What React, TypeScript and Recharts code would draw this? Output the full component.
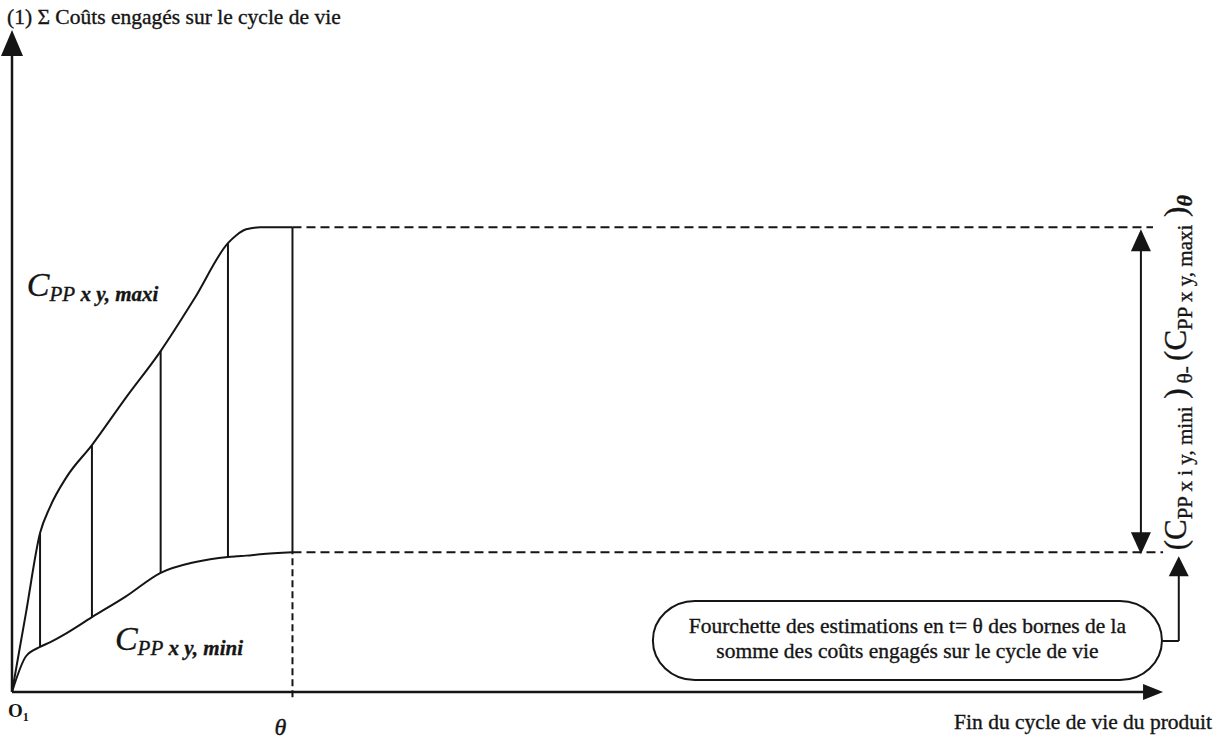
import { ComposedChart, Line, XAxis, YAxis, ReferenceLine, ReferenceDot, ReferenceArea } from 'recharts';

// time along the life cycle (theta = 100) and the two cost bounds
const lifeTime = [0, 5, 10, 13.5, 19.5, 28.5, 40.5, 53, 65, 77, 80, 83.5, 88.5, 100];
const costMaxi = [0, 12, 24, 27.9, 32.5, 37.3, 44.4, 51.5, 59.4, 67.8, 69.0, 69.9, 70.2, 70.2];
const costMini = [0, 5.4, 6.8, 7.5, 8.9, 11.3, 14.4, 18.0, 19.6, 20.4, 20.5, 20.6, 20.8, 21.1];

// vertical hatch lines between the bounds
const hatchTimes = [10, 28.5, 53, 77];

const THETA = 100;
const AXIS_END = 410.4;
const RANGE_T = 402.5;
const NOTE_T = 416;
const BOX_T = [228.5, 410];
const BOX_Y = [1.8, 13.75];
const NOTE_Y = 7.7;

const boxLines = [
  'Fourchette des estimations en t= θ des bornes de la',
  'somme des coûts engagés sur le cycle de vie',
];

const INK = '#151515';
const SERIF = '"Liberation Serif", "Times New Roman", serif';
const TXT = 21.5;

const rows = lifeTime.map((t, i) => ({ t, maxi: costMaxi[i], mini: costMini[i] }));
const thetaIdx = lifeTime.indexOf(THETA);
const maxiTheta = costMaxi[thetaIdx];
const miniTheta = costMini[thetaIdx];

const head = (dir: 'up' | 'down' | 'right', len: number, half: number) => (p: any) => {
  const { cx, cy } = p;
  let pts = '';
  if (dir === 'up') pts = `${cx},${cy} ${cx - half},${cy + len} ${cx + half},${cy + len}`;
  if (dir === 'down') pts = `${cx},${cy} ${cx - half},${cy - len} ${cx + half},${cy - len}`;
  if (dir === 'right') pts = `${cx},${cy} ${cx - len},${cy - half} ${cx - len},${cy + half}`;
  return <polygon points={pts} fill={INK} />;
};

const seg = (key: string, x1: number, y1: number, x2: number, y2: number, w = 2, dash?: string) => (
  <ReferenceLine
    key={key}
    segment={[{ x: x1, y: y1 }, { x: x2, y: y2 }]}
    stroke={INK}
    strokeWidth={w}
    strokeDasharray={dash}
    ifOverflow="visible"
  />
);

const dot = (key: string, x: number, y: number, shape: any) => (
  <ReferenceDot key={key} x={x} y={y} r={1} fill="none" stroke="none" ifOverflow="visible" shape={shape} />
);

// scanned text looks heavier than plain Times
const inked = { fill: INK, stroke: INK, strokeWidth: 0.35 };

const curveLabel = (kind: string) => (p: any) => (
  <text x={p.cx} y={p.cy} fontFamily={SERIF} {...inked}>
    <tspan fontSize={34} fontStyle="italic">C</tspan>
    <tspan fontSize={21} fontStyle="italic" dy={5}>PP</tspan>
    <tspan fontSize={21} fontStyle="italic" fontWeight="bold"> x y, {kind}</tspan>
  </text>
);

const rangeLabel = (p: any) => (
  <text transform={`translate(${p.cx},${p.cy}) rotate(-90)`} fontFamily={SERIF} {...inked}>
    <tspan fontSize={31}>(C</tspan>
    <tspan fontSize={21} dy={6}>PP x i y, mini</tspan>
    <tspan fontSize={31} dy={-6}> )</tspan>
    <tspan fontSize={21} dy={6}> θ- </tspan>
    <tspan fontSize={31} dy={-6}>(C</tspan>
    <tspan fontSize={21} dy={6}>PP x y, maxi</tspan>
    <tspan fontSize={31} dy={-6}> )</tspan>
    <tspan fontSize={22} fontStyle="italic" fontWeight="bold" dy={6}>θ</tspan>
  </text>
);

const noteBox = (p: any) => {
  const { x, y, width, height } = p;
  const mid = y + height / 2;
  return (
    <g>
      <rect x={x} y={y} width={width} height={height} rx={42} ry={height / 2} fill="#fff" stroke={INK} strokeWidth={2} />
      <text x={x + width / 2} y={mid - 7.5} textAnchor="middle" fontFamily={SERIF} fontSize={TXT} {...inked}>
        {boxLines[0]}
      </text>
      <text x={x + width / 2} y={mid + 17.5} textAnchor="middle" fontFamily={SERIF} fontSize={TXT} {...inked}>
        {boxLines[1]}
      </text>
    </g>
  );
};

const plainText = (txt: string, dx: number, dy: number, size: number, anchor = 'start', italic = false) => (p: any) => (
  <text
    x={p.cx + dx}
    y={p.cy + dy}
    textAnchor={anchor}
    fontFamily={SERIF}
    fontSize={size}
    fontStyle={italic ? 'italic' : 'normal'}
    {...inked}
  >
    {txt}
  </text>
);

const originLabel = (p: any) => (
  <text x={p.cx - 4} y={p.cy + 25} fontFamily={SERIF} fontSize={19} fontWeight="bold" fill={INK}>
    O<tspan fontSize={12} dy={4}>1</tspan>
  </text>
);

export default function App() {
  return (
    <div style={{ position: 'absolute', left: 0, top: 0, width: 1224, height: 740, background: '#fff' }}>
      <ComposedChart width={1224} height={740} data={rows} margin={{ top: 30, right: 34, bottom: 48, left: 12 }}>
        <XAxis dataKey="t" type="number" domain={[0, 420]} hide allowDataOverflow />
        <YAxis type="number" domain={[0, 100]} hide allowDataOverflow />

        {/* axes */}
        {seg('xaxis', 0, 0, AXIS_END - 5, 0, 2.5)}
        {seg('yaxis', 0, 0, 0, 97, 2.5)}
        {dot('xhead', AXIS_END, 0, head('right', 20, 8))}
        {dot('yhead', 0, 100, head('up', 26, 11))}

        <Line dataKey="maxi" type="monotone" stroke={INK} strokeWidth={2} dot={false} isAnimationActive={false} />
        <Line dataKey="mini" type="monotone" stroke={INK} strokeWidth={2} dot={false} isAnimationActive={false} />

        {hatchTimes.map((t) => {
          const i = lifeTime.indexOf(t);
          return seg(`h${t}`, t, costMini[i], t, costMaxi[i], 2);
        })}
        {seg('theta', THETA, miniTheta, THETA, maxiTheta, 2)}
        {seg('thetaDash', THETA, -0.8, THETA, miniTheta, 2, '7 4')}

        {seg('dashMaxi', THETA, maxiTheta, 406.8, maxiTheta, 2, '9 5')}
        {seg('dashMini', THETA, miniTheta, AXIS_END, miniTheta, 2, '9 5')}

        {/* range double arrow */}
        {seg('range', RANGE_T, 21.5, RANGE_T, 69.5, 2)}
        {dot('rangeTop', RANGE_T, 69.9, head('up', 22, 10))}
        {dot('rangeBot', RANGE_T, 20.8, head('down', 22, 10))}

        {/* note box and connector */}
        <ReferenceArea x1={BOX_T[0]} x2={BOX_T[1]} y1={BOX_Y[0]} y2={BOX_Y[1]} ifOverflow="visible" shape={noteBox} />
        {seg('noteH', BOX_T[1], NOTE_Y, NOTE_T, NOTE_Y, 2)}
        {seg('noteV', NOTE_T, NOTE_Y, NOTE_T, 19, 2)}
        {dot('noteHead', NOTE_T, 20.5, head('up', 20, 10))}

        {/* texts */}
        {dot('title', 0, 100, plainText('(1) Σ Coûts engagés sur le cycle de vie', -5, -6, TXT))}
        {dot('origin', 0, 0, originLabel)}
        {dot('thetaLbl', THETA, 0, plainText('θ', -12, 43, 24, 'middle', true))}
        {dot('endLbl', AXIS_END, 0, plainText('Fin du cycle de vie du produit', 49, 37, TXT, 'end'))}
        {dot('maxiLbl', 5.3, 59.8, curveLabel('maxi'))}
        {dot('miniLbl', 36.7, 6.3, curveLabel('mini'))}
        {dot('rangeLbl', 418.5, 21.4, rangeLabel)}
      </ComposedChart>
    </div>
  );
}
